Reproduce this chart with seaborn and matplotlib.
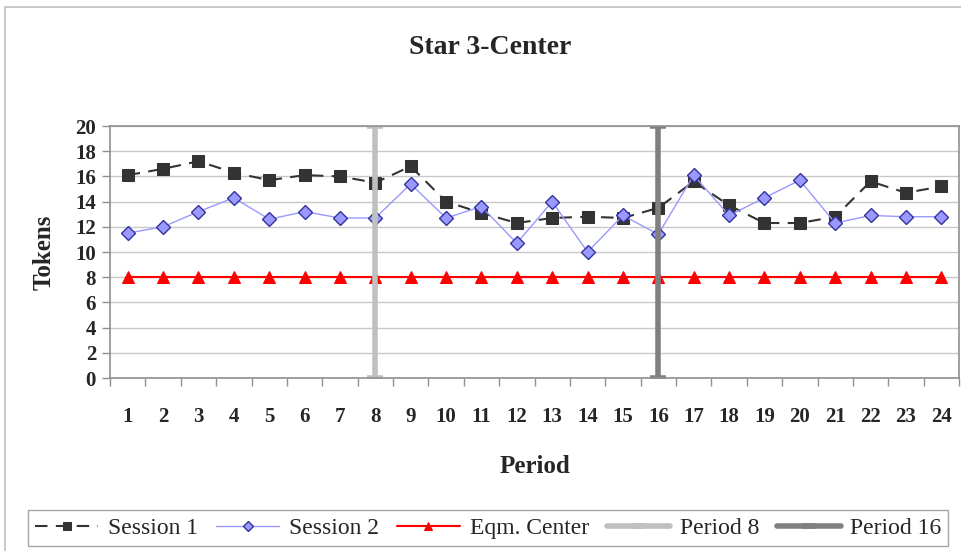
import matplotlib
matplotlib.use("Agg")
import matplotlib.pyplot as plt
import matplotlib.patches as mpatches
import numpy as np
import pandas as pd
import seaborn as sns

# Token counts per period
periods = list(range(1, 25))
session1 = [16.1, 16.6, 17.2, 16.3, 15.7, 16.1, 16.0, 15.5, 16.8, 14.0, 13.1, 12.3,
            12.7, 12.8, 12.7, 13.5, 15.6, 13.7, 12.3, 12.3, 12.8, 15.6, 14.7, 15.2]
session2 = [11.5, 12.0, 13.2, 14.3, 12.6, 13.2, 12.7, 12.7, 15.4, 12.7, 13.6, 10.7,
            14.0, 10.0, 12.9, 11.4, 16.1, 12.9, 14.3, 15.7, 12.3, 12.9, 12.8, 12.8]
eqm_center = [8] * 24
marker_periods = [8, 16]
marker_span = [0, 20]
y_ticks = list(range(0, 21, 2))

sns.set_theme(style="white")
plt.rcParams["font.family"] = ["Liberation Serif", "DejaVu Serif"]
plt.rcParams["font.weight"] = "bold"

fig = plt.figure(figsize=(9.61, 5.51), dpi=100)
ax = fig.add_axes([110 / 961, 1 - 378 / 551, (959 - 110) / 961, (378 - 126) / 551])

df = pd.DataFrame({"Period": periods, "Session 1": session1,
                   "Session 2": session2, "Eqm. Center": eqm_center})

sns.lineplot(data=df, x="Period", y="Session 1", ax=ax, color="#333333",
             linewidth=1.5, dashes=False, marker="s", markersize=8,
             markerfacecolor="#333333", markeredgecolor="#333333",
             label="Session 1")
ax.lines[-1].set_dashes([6, 4])
sns.lineplot(data=df, x="Period", y="Session 2", ax=ax, color="#9999FF",
             linewidth=1.0, marker="D", markersize=7,
             markerfacecolor="#9999FF", markeredgecolor="#333399",
             markeredgewidth=1.0, label="Session 2")
sns.lineplot(data=df, x="Period", y="Eqm. Center", ax=ax, color="#FF0000",
             linewidth=1.5, marker="^", markersize=8,
             markerfacecolor="#FF0000", markeredgecolor="#FF0000",
             label="Eqm. Center")

vcolors = ["#C0C0C0", "#808080"]
vlabels = ["Period 8", "Period 16"]
for p, c, lab in zip(marker_periods, vcolors, vlabels):
    vdf = pd.DataFrame({"x": [p, p], "y": marker_span})
    sns.lineplot(data=vdf, x="x", y="y", ax=ax, color=c, linewidth=4,
                 marker="_", markersize=12, markeredgewidth=4,
                 markeredgecolor=c, label=lab, estimator=None, sort=False,
                 orient="y")

# Excel-style category axis: ticks between categories, labels centred
ax.set_xlim(0.5, 24.5)
ax.set_ylim(0, 20)
ax.set_xticks(np.arange(0.5, 25, 1))
ax.set_xticklabels([])
ax.set_xticks(periods, minor=True)
ax.set_xticklabels([str(p) for p in periods], minor=True)
ax.tick_params(axis="x", which="major", length=6, width=1, color="#909090",
               direction="out", bottom=True)
ax.tick_params(axis="x", which="minor", length=0, pad=21, labelsize=15)
ax.set_yticks(y_ticks)
ax.set_yticklabels([str(v) for v in y_ticks])
ax.tick_params(axis="y", length=6, width=1, color="#909090", direction="out",
               left=True, labelsize=15, pad=4)

ax.yaxis.grid(True, color="#C8C8C8", linewidth=1)
ax.xaxis.grid(False)
ax.set_axisbelow(True)
for s in ax.spines.values():
    s.set_color("#909090")
    s.set_linewidth(1.2)

ax.set_xlabel("Period", fontsize=18, fontweight="bold", labelpad=20)
ax.set_ylabel("Tokens", fontsize=18, fontweight="bold", labelpad=14)
fig.text(490 / 961, 1 - 48 / 551, "Star 3-Center",
         ha="center", va="center", fontsize=20, fontweight="bold")

handles, labels = ax.get_legend_handles_labels()
ax.get_legend().remove()
leg = fig.legend(handles, labels, loc="center", ncol=5,
                 bbox_to_anchor=(488 / 961, 1 - 528 / 551),
                 frameon=True, fancybox=False,
                 prop={"size": 17, "weight": "normal"},
                 handlelength=2.7, handletextpad=0.4, columnspacing=0.75,
                 borderpad=0.3, borderaxespad=0, markerscale=0.8)
leg.get_frame().set_edgecolor("#909090")
leg.get_frame().set_linewidth(1.0)

# outer chart frame
fig.patches.append(mpatches.Rectangle((5 / 961, -0.05), 1.2, 1 - 7 / 551 + 0.05,
                                      transform=fig.transFigure, fill=False,
                                      edgecolor="#C0C0C0", linewidth=1.2))

fig.savefig("out.png", dpi=100)
